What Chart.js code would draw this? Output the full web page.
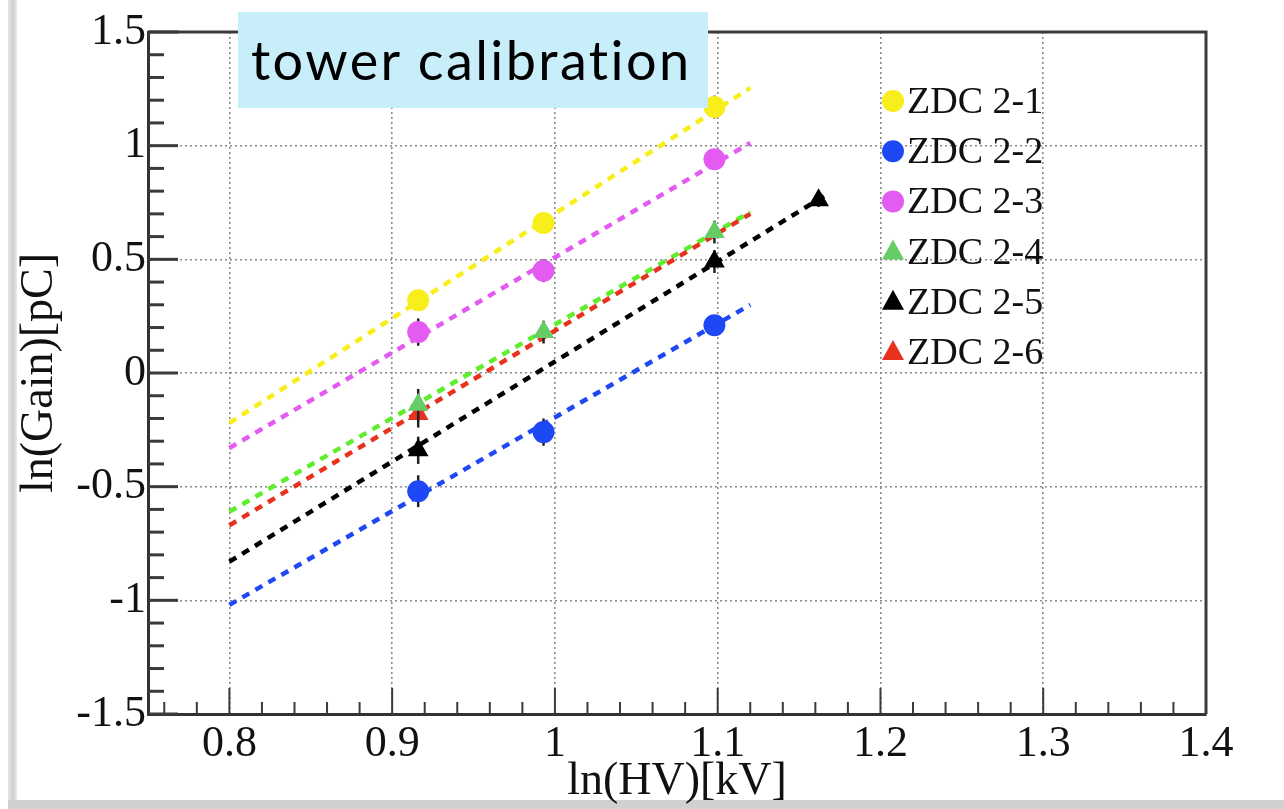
<!DOCTYPE html>
<html>
<head>
<meta charset="utf-8">
<title>tower calibration</title>
<script src="https://cdn.jsdelivr.net/npm/chart.js@4.4.1/dist/chart.umd.min.js"></script>
<style>
  html, body { margin: 0; padding: 0; background: #fff; }
  #wrap { position: relative; width: 1284px; height: 809px; overflow: hidden; }
  #edgeLeft { position: absolute; left: 8px; top: 0; width: 9px; height: 800px;
              background: linear-gradient(to right, #e6e6e6, #cfcfcf 60%, #ececec); }
  #edgeBottom { position: absolute; left: 8px; top: 800px; width: 1276px; height: 9px; background: #d0d0d0; }
  #gainChart { position: absolute; left: 0; top: 0; }
  #titleBox { position: absolute; left: 238px; top: 12px; width: 470px; height: 96px;
              background: #c8eefa; color: #000; font-family: Lato, "Open Sans", sans-serif;
              font-size: 54px; letter-spacing: 2.4px; line-height: 96px; padding-left: 13px;
              box-sizing: border-box; white-space: nowrap; }
</style>
</head>
<body>
<div id="wrap">
  <div id="edgeLeft"></div>
  <div id="edgeBottom"></div>
  <canvas id="gainChart" width="1284" height="809"></canvas>
  <div id="titleBox">tower calibration</div>
</div>
<script>
// ln(HV) settings where each tower was measured
const hvSet = [0.916, 0.993, 1.098];
const hvSet25 = [0.916, 1.098, 1.162];
const hvSet26 = [0.916];

// ln(Gain) per tower, with errors
const gain21 = [0.32, 0.66, 1.17];
const gain22 = [-0.52, -0.26, 0.21];
const gain23 = [0.18, 0.45, 0.94];
const gain24 = [-0.14, 0.18, 0.62];
const gain25 = [-0.34, 0.49, 0.76];
const gain26 = [-0.18];
const err21 = [0.04, 0.04, 0.05];
const err22 = [0.07, 0.06, 0.04];
const err23 = [0.06, 0.05, 0.04];
const err24 = [0.07, 0.05, 0.05];
const err25 = [0.06, 0.05, 0.03];
const err26 = [0.06];

// straight-line fits: ends of each line
const fitHv = [0.8, 1.12];
const fitHv25 = [0.8, 1.168];
const fit21 = [-0.22, 1.254];
const fit22 = [-1.02, 0.30];
const fit23 = [-0.33, 1.012];
const fit24 = [-0.61, 0.708];
const fit25 = [-0.83, 0.79];
const fit26 = [-0.67, 0.70];

const xTickValues = [0.8, 0.9, 1.0, 1.1, 1.2, 1.3, 1.4];
const xTickLabels = ['0.8', '0.9', '1', '1.1', '1.2', '1.3', '1.4'];
const yTickValues = [-1.5, -1, -0.5, 0, 0.5, 1, 1.5];
const yTickLabels = ['-1.5', '-1', '-0.5', '0', '0.5', '1', '1.5'];

const serifFont = '"Liberation Serif", "Times New Roman", serif';

function pts(xs, ys) {
  return xs.map((x, i) => ({ x: x, y: ys[i] }));
}

function markers(label, xs, ys, errs, color, style, order) {
  return {
    label: label,
    data: pts(xs, ys),
    errors: errs,
    showLine: false,
    pointStyle: style,
    pointRadius: style === 'circle' ? 11 : 12,
    backgroundColor: color,
    borderColor: color,
    borderWidth: 0,
    order: order
  };
}

function fitLine(xs, ys, color) {
  return {
    data: pts(xs, ys),
    showLine: true,
    borderColor: color,
    borderWidth: 4.5,
    borderDash: [8, 7],
    pointRadius: 0,
    fill: false,
    order: 20
  };
}

const datasets = [
  fitLine(fitHv, fit21, '#f7ee1c'),
  fitLine(fitHv, fit23, '#e35bf0'),
  fitLine(fitHv, fit26, '#e8321e'),
  fitLine(fitHv, fit24, '#5fee2c'),
  fitLine(fitHv25, fit25, '#000000'),
  fitLine(fitHv, fit22, '#1f48f5'),
  markers('ZDC 2-1', hvSet, gain21, err21, '#f7ee1c', 'circle', 6),
  markers('ZDC 2-2', hvSet, gain22, err22, '#1f48f5', 'circle', 5),
  markers('ZDC 2-3', hvSet, gain23, err23, '#e35bf0', 'circle', 4),
  markers('ZDC 2-4', hvSet, gain24, err24, '#66cc66', 'triangle', 1),
  markers('ZDC 2-5', hvSet25, gain25, err25, '#000000', 'triangle', 3),
  markers('ZDC 2-6', hvSet26, gain26, err26, '#e8321e', 'triangle', 2)
];

// vertical error bars, drawn just before each marker set
const errorBars = {
  id: 'errorBars',
  beforeDatasetDraw(chart, args) {
    const ds = chart.data.datasets[args.index];
    if (!ds.errors) return;
    const { ctx, scales: { x, y } } = chart;
    ctx.save();
    ctx.strokeStyle = '#222';
    ctx.lineWidth = 2.5;
    ds.data.forEach((p, i) => {
      const px = x.getPixelForValue(p.x);
      ctx.beginPath();
      ctx.moveTo(px, y.getPixelForValue(p.y - ds.errors[i]));
      ctx.lineTo(px, y.getPixelForValue(p.y + ds.errors[i]));
      ctx.stroke();
    });
    ctx.restore();
  }
};

// frame and inward tick marks
const frameTicks = {
  id: 'frameTicks',
  afterDatasetsDraw(chart) {
    const { ctx, chartArea: a, scales: { x, y } } = chart;
    ctx.save();
    ctx.strokeStyle = '#3a3a3a';
    ctx.lineWidth = 3;
    ctx.beginPath();
    ctx.moveTo(a.left, a.top);
    ctx.lineTo(a.right, a.top);
    ctx.lineTo(a.right, a.bottom);
    ctx.stroke();

    ctx.lineWidth = 2;
    for (let i = 38; i <= 70; i++) {
      const px = x.getPixelForValue(i / 50);
      const len = i % 5 === 0 ? 26 : 12;
      ctx.beginPath();
      ctx.moveTo(px, a.bottom);
      ctx.lineTo(px, a.bottom - len);
      ctx.stroke();
    }
    ctx.lineWidth = 3;
    for (let i = -15; i <= 15; i++) {
      const py = y.getPixelForValue(i / 10);
      const len = i % 5 === 0 ? 30 : 16;
      ctx.beginPath();
      ctx.moveTo(a.left, py);
      ctx.lineTo(a.left + len, py);
      ctx.stroke();
    }
    ctx.restore();
  }
};

// legend box inside the plot
const insideLegend = {
  id: 'insideLegend',
  afterDraw(chart) {
    const ctx = chart.ctx;
    const entries = chart.data.datasets.filter(ds => ds.label);
    const mx = 893, tx = 907, y0 = 101, step = 50.2;
    ctx.save();
    ctx.font = '38px ' + serifFont;
    ctx.textBaseline = 'middle';
    ctx.textAlign = 'left';
    entries.forEach((ds, i) => {
      const cy = y0 + i * step;
      ctx.fillStyle = ds.backgroundColor;
      ctx.beginPath();
      if (ds.pointStyle === 'circle') {
        ctx.arc(mx, cy, 11, 0, Math.PI * 2);
      } else {
        ctx.moveTo(mx, cy - 12);
        ctx.lineTo(mx + 11, cy + 8);
        ctx.lineTo(mx - 11, cy + 8);
        ctx.closePath();
      }
      ctx.fill();
      ctx.fillStyle = '#111';
      ctx.fillText(ds.label, tx, cy + 2);
    });
    ctx.restore();
  }
};

const ctx = document.getElementById('gainChart').getContext('2d');

new Chart(ctx, {
  type: 'scatter',
  data: { datasets: datasets },
  plugins: [errorBars, frameTicks, insideLegend],
  options: {
    responsive: false,
    animation: false,
    devicePixelRatio: 1,
    layout: { padding: { left: 0, top: 32, right: 78, bottom: 0 } },
    plugins: {
      legend: { display: false },
      tooltip: { enabled: false }
    },
    scales: {
      x: {
        type: 'linear',
        min: 0.75,
        max: 1.4,
        afterBuildTicks: s => { s.ticks = xTickValues.map(v => ({ value: v })); },
        afterFit: s => { s.height = 95; },
        grid: { color: '#8a8a8a', lineWidth: 1.6, drawTicks: false },
        border: { display: true, color: '#333', width: 3, dash: [2, 3] },
        ticks: {
          padding: 4,
          color: '#111',
          font: { family: serifFont, size: 44 },
          maxRotation: 0,
          autoSkip: false,
          callback: (v, i) => xTickLabels[i]
        },
        title: {
          display: true,
          text: 'ln(HV)[kV]',
          color: '#111',
          font: { family: serifFont, size: 46 },
          padding: { top: 0, bottom: -1 }
        }
      },
      y: {
        type: 'linear',
        min: -1.5,
        max: 1.5,
        afterBuildTicks: s => { s.ticks = yTickValues.map(v => ({ value: v })); },
        afterFit: s => { s.width = 148; },
        grid: { color: '#8a8a8a', lineWidth: 1.6, drawTicks: false },
        border: { display: true, color: '#333', width: 3, dash: [2, 3] },
        ticks: {
          padding: 2,
          color: '#111',
          font: { family: serifFont, size: 44 },
          autoSkip: false,
          callback: (v, i) => yTickLabels[i]
        },
        title: {
          display: true,
          text: 'ln(Gain)[pC]',
          color: '#111',
          font: { family: serifFont, size: 46 },
          padding: { top: 12, bottom: 0 }
        }
      }
    }
  }
});
</script>
</body>
</html>
